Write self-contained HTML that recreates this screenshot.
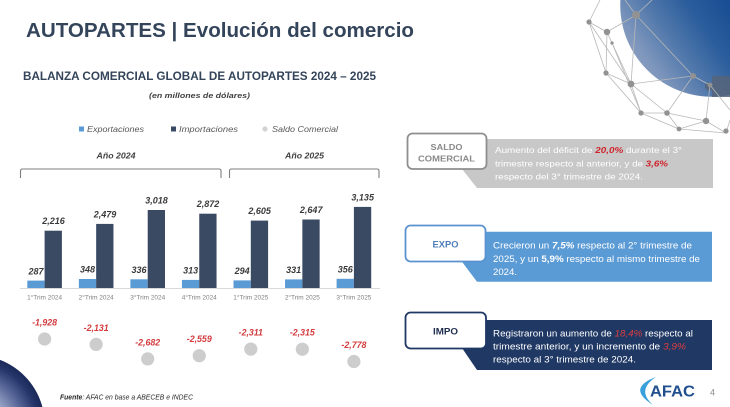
<!DOCTYPE html>
<html><head><meta charset="utf-8"><style>
html,body{margin:0;padding:0;background:#fff;width:730px;height:407px;overflow:hidden;}
#wrap{position:relative;width:730px;height:407px;overflow:hidden;background:#fff;}
#globe{position:absolute;left:620px;top:0;width:110px;height:97px;
background:linear-gradient(235deg,#174c92 0%,#2a5d9c 25%,#5178ab 48%,#7f97bd 70%,#a2adc3 100%);
-webkit-mask-image:radial-gradient(circle 92px at 92px 5px,#000 91.5px,transparent 92px);
mask-image:radial-gradient(circle 92px at 92px 5px,#000 91.5px,transparent 92px);}
#bls{position:absolute;left:0;top:355px;width:50px;height:52px;
background:radial-gradient(circle 70px at -25px 70px,#d5dbe7 0px,#a5b0cc 28px,#5e6d9e 46px,#26366a 62px,#1b2a5a 69.5px,rgba(255,255,255,0) 70px);}
svg{position:absolute;left:0;top:0;display:block;}
text{font-family:"Liberation Sans",sans-serif;}
</style></head><body>
<div id="wrap">
<div id="globe"></div>
<div id="bls"></div>
<svg width="730" height="407" viewBox="0 0 730 407" xmlns="http://www.w3.org/2000/svg">

<!-- puzzle piece -->
<path d="M712 76 H730 V97 H712 V90 Q706 92 705 87 Q704 81 712 83 Z" fill="#566479" opacity="0.85"/>

<!-- network -->
<g stroke="#b8b8b8" stroke-width="0.8" fill="none">
<line x1="589" y1="22" x2="607" y2="32"/><line x1="589" y1="22" x2="600" y2="0"/><line x1="589" y1="22" x2="606" y2="73"/>
<line x1="607" y1="32" x2="636" y2="15"/><line x1="607" y1="32" x2="606" y2="73"/><line x1="636" y1="15" x2="625" y2="0"/>
<line x1="636" y1="15" x2="652" y2="0"/><line x1="606" y1="73" x2="631" y2="84"/><line x1="606" y1="73" x2="641" y2="113"/>
<line x1="631" y1="84" x2="641" y2="113"/><line x1="631" y1="84" x2="693" y2="76"/><line x1="631" y1="84" x2="636" y2="15"/>
<line x1="641" y1="113" x2="667" y2="113"/><line x1="641" y1="113" x2="679" y2="129"/><line x1="667" y1="113" x2="679" y2="129"/>
<line x1="667" y1="113" x2="706" y2="121"/><line x1="667" y1="113" x2="693" y2="76"/><line x1="693" y1="76" x2="710" y2="85"/>
<line x1="706" y1="121" x2="679" y2="129"/><line x1="706" y1="121" x2="726" y2="133"/><line x1="679" y1="129" x2="726" y2="133"/>
<line x1="710" y1="85" x2="706" y2="121"/><line x1="607" y1="32" x2="631" y2="84"/><line x1="693" y1="76" x2="636" y2="15"/>
<line x1="710" y1="85" x2="730" y2="110"/><line x1="726" y1="133" x2="730" y2="120"/><line x1="631" y1="84" x2="667" y2="113"/>
<line x1="612" y1="43" x2="641" y2="113"/><line x1="589" y1="22" x2="631" y2="84"/>
</g>
<g fill="#929292">
<circle cx="589" cy="22" r="2.6"/><circle cx="607" cy="32" r="3.2"/><circle cx="636" cy="15" r="4"/><circle cx="606" cy="73" r="2.6"/>
<circle cx="631" cy="84" r="3.4"/><circle cx="641" cy="113" r="2.6"/><circle cx="667" cy="113" r="2.8"/><circle cx="693" cy="76" r="3"/>
<circle cx="706" cy="121" r="3.2"/><circle cx="679" cy="129" r="2.4"/><circle cx="726" cy="131" r="2.6"/><circle cx="710" cy="85" r="2.4"/>
<circle cx="612" cy="43" r="1.6"/>
</g>

<!-- Title -->
<text x="26" y="37" font-size="20" font-weight="bold" fill="#34455b" textLength="388" lengthAdjust="spacingAndGlyphs">AUTOPARTES | Evolución del comercio</text>
<text x="23" y="80" font-size="11.5" font-weight="bold" fill="#34445a" textLength="353" lengthAdjust="spacingAndGlyphs">BALANZA COMERCIAL GLOBAL DE AUTOPARTES 2024 – 2025</text>
<text x="149" y="98" font-size="7.5" font-weight="bold" font-style="italic" fill="#404040" textLength="101" lengthAdjust="spacingAndGlyphs">(en millones de dólares)</text>

<!-- Legend -->
<rect x="79" y="126.5" width="5" height="5" fill="#5b9bd5"/>
<text x="87" y="132" font-size="8" font-style="italic" fill="#595959" textLength="57" lengthAdjust="spacingAndGlyphs">Exportaciones</text>
<rect x="171" y="126.5" width="5" height="5" fill="#3b4a63"/>
<text x="179" y="132" font-size="8" font-style="italic" fill="#595959" textLength="59" lengthAdjust="spacingAndGlyphs">Importaciones</text>
<circle cx="265" cy="129" r="2.6" fill="#d3d3d3"/>
<text x="272" y="132" font-size="8" font-style="italic" fill="#595959" textLength="66" lengthAdjust="spacingAndGlyphs">Saldo Comercial</text>

<text x="96.5" y="158.5" font-size="8.5" font-weight="bold" font-style="italic" fill="#404040" textLength="39" lengthAdjust="spacingAndGlyphs">Año 2024</text>
<text x="285" y="158.5" font-size="8.5" font-weight="bold" font-style="italic" fill="#404040" textLength="39" lengthAdjust="spacingAndGlyphs">Año 2025</text>

<!-- brackets -->
<path d="M20.5 178 V171 Q20.5 169 22.5 169 H219 Q221 169 221 171 V178" stroke="#7f7f7f" stroke-width="1.1" fill="none"/>
<path d="M229.5 178 V171 Q229.5 169 231.5 169 H377 Q379 169 379 171 V178" stroke="#7f7f7f" stroke-width="1.1" fill="none"/>

<!-- baseline -->
<line x1="20" y1="288.5" x2="380" y2="288.5" stroke="#d9d9d9" stroke-width="1"/>

<!-- bars -->
<g fill="#5b9bd5">
<rect x="27.3" y="280.6" width="17.3" height="7.4"/>
<rect x="78.85" y="279" width="17.3" height="9"/>
<rect x="130.4" y="279.3" width="17.3" height="8.7"/>
<rect x="181.95" y="279.9" width="17.3" height="8.1"/>
<rect x="233.5" y="280.4" width="17.3" height="7.6"/>
<rect x="285.05" y="279.4" width="17.3" height="8.6"/>
<rect x="336.6" y="278.8" width="17.3" height="9.2"/>
</g>
<g fill="#3b4a63">
<rect x="44.6" y="230.7" width="17.3" height="57.3"/>
<rect x="96.15" y="223.9" width="17.3" height="64.1"/>
<rect x="147.7" y="210" width="17.3" height="78"/>
<rect x="199.25" y="213.7" width="17.3" height="74.3"/>
<rect x="250.8" y="220.6" width="17.3" height="67.4"/>
<rect x="302.35" y="219.5" width="17.3" height="68.5"/>
<rect x="353.9" y="206.9" width="17.3" height="81.1"/>
</g>

<!-- value labels -->
<g font-size="9" font-weight="bold" font-style="italic" fill="#3a3a3a" text-anchor="middle">
<text x="53.5" y="224.2">2,216</text>
<text x="105" y="217.4">2,479</text>
<text x="156.5" y="203.5">3,018</text>
<text x="208" y="207.2">2,872</text>
<text x="259.6" y="214.1">2,605</text>
<text x="311.2" y="213">2,647</text>
<text x="362.7" y="200.4">3,135</text>
<text x="36" y="274.3">287</text>
<text x="87.5" y="272.7">348</text>
<text x="139" y="273">336</text>
<text x="190.6" y="273.6">313</text>
<text x="242.2" y="274.1">294</text>
<text x="293.7" y="273.1">331</text>
<text x="345.3" y="272.5">356</text>
</g>

<!-- category labels -->
<g font-size="6.5" fill="#7f7f7f" text-anchor="middle">
<text x="44.6" y="299.5" textLength="35" lengthAdjust="spacingAndGlyphs">1°Trim 2024</text>
<text x="96.15" y="299.5" textLength="35" lengthAdjust="spacingAndGlyphs">2°Trim 2024</text>
<text x="147.7" y="299.5" textLength="35" lengthAdjust="spacingAndGlyphs">3°Trim 2024</text>
<text x="199.25" y="299.5" textLength="35" lengthAdjust="spacingAndGlyphs">4°Trim 2024</text>
<text x="250.8" y="299.5" textLength="35" lengthAdjust="spacingAndGlyphs">1°Trim 2025</text>
<text x="302.35" y="299.5" textLength="35" lengthAdjust="spacingAndGlyphs">2°Trim 2025</text>
<text x="353.9" y="299.5" textLength="35" lengthAdjust="spacingAndGlyphs">3°Trim 2025</text>
</g>

<!-- saldo dots -->
<g fill="#cdcdcd">
<circle cx="44.6" cy="339" r="6.6"/>
<circle cx="96.15" cy="344.4" r="6.6"/>
<circle cx="147.7" cy="358.9" r="6.6"/>
<circle cx="199.25" cy="355.7" r="6.6"/>
<circle cx="250.8" cy="349.1" r="6.6"/>
<circle cx="302.35" cy="349.2" r="6.6"/>
<circle cx="353.9" cy="361.5" r="6.6"/>
</g>
<g font-size="8.8" font-weight="bold" font-style="italic" fill="#d23a3d" text-anchor="middle">
<text x="44.6" y="325.5">-1,928</text>
<text x="96.15" y="330.9">-2,131</text>
<text x="147.7" y="345.4">-2,682</text>
<text x="199.25" y="342.2">-2,559</text>
<text x="250.8" y="335.6">-2,311</text>
<text x="302.35" y="335.7">-2,315</text>
<text x="353.9" y="348">-2,778</text>
</g>

<!-- Fuente -->
<text x="60" y="399.5" font-size="7.5" font-style="italic" fill="#262626" textLength="133" lengthAdjust="spacingAndGlyphs"><tspan font-weight="bold">Fuente</tspan>: AFAC en base a ABECEB e INDEC</text>

<!-- SALDO COMERCIAL panel -->
<polygon points="440,139 713,139 713,188 477,188 462,169 440,169" fill="#c8c8c8"/>
<rect x="407.5" y="133.5" width="79" height="35.5" rx="5" fill="#fff" stroke="#8f8f8f" stroke-width="1.8"/>
<g font-size="8.5" font-weight="bold" fill="#8a8a8a" text-anchor="middle">
<text x="446.5" y="150" textLength="32" lengthAdjust="spacingAndGlyphs">SALDO</text>
<text x="446.5" y="161.5" textLength="57" lengthAdjust="spacingAndGlyphs">COMERCIAL</text>
</g>
<g font-size="8.6" fill="#fff">
<text x="495" y="153" textLength="187" lengthAdjust="spacingAndGlyphs">Aumento del déficit de <tspan font-weight="bold" font-style="italic" fill="#d0222a">20,0%</tspan> durante el 3°</text>
<text x="495" y="166.3" textLength="173" lengthAdjust="spacingAndGlyphs">trimestre respecto al anterior, y de <tspan font-weight="bold" font-style="italic" fill="#d0222a">3,6%</tspan></text>
<text x="495" y="179.3" textLength="148" lengthAdjust="spacingAndGlyphs">respecto del 3° trimestre de 2024.</text>
</g>

<!-- EXPO panel -->
<polygon points="440,231.7 712,231.7 712,281.7 477,281.7 462,261.7 440,261.7" fill="#5b9bd5"/>
<rect x="405.5" y="225.5" width="80" height="36" rx="5" fill="#fff" stroke="#5b93d0" stroke-width="1.8"/>
<text x="445.5" y="247.7" font-size="9.5" font-weight="bold" fill="#4f7fba" text-anchor="middle" textLength="26" lengthAdjust="spacingAndGlyphs">EXPO</text>
<g font-size="8.8" fill="#fff">
<text x="493" y="248.7" textLength="199" lengthAdjust="spacingAndGlyphs">Crecieron un <tspan font-weight="bold" font-style="italic">7,5%</tspan> respecto al 2° trimestre de</text>
<text x="493" y="262.2" textLength="207" lengthAdjust="spacingAndGlyphs">2025, y un <tspan font-weight="bold">5,9%</tspan> respecto al mismo trimestre de</text>
<text x="493" y="274.8" textLength="24" lengthAdjust="spacingAndGlyphs">2024.</text>
</g>

<!-- IMPO panel -->
<polygon points="440,320 712,320 712,370 477,370 462,348 440,348" fill="#1f3864"/>
<rect x="405.5" y="312.5" width="80.5" height="36" rx="5" fill="#fff" stroke="#1f3864" stroke-width="1.8"/>
<text x="445.5" y="334.5" font-size="9.5" font-weight="bold" fill="#1f2d4e" text-anchor="middle" textLength="25" lengthAdjust="spacingAndGlyphs">IMPO</text>
<g font-size="8.8" fill="#fff">
<text x="493" y="336.3" textLength="200" lengthAdjust="spacingAndGlyphs">Registraron un aumento de <tspan font-style="italic" fill="#e23d3d">18,4%</tspan> respecto al</text>
<text x="493" y="349.7" textLength="193" lengthAdjust="spacingAndGlyphs">trimestre anterior, y un incremento de <tspan font-style="italic" fill="#e23d3d">3,9%</tspan></text>
<text x="493" y="362.3" textLength="143" lengthAdjust="spacingAndGlyphs">respecto al 3° trimestre de 2024.</text>
</g>

<!-- AFAC logo -->
<path d="M656 377 Q626 388 653 405 Q636 390 656 377 Z" fill="#3aa0dc"/>
<text x="650" y="396.5" font-size="16" font-weight="bold" fill="#214f8e" textLength="45" lengthAdjust="spacingAndGlyphs">AFAC</text>
<text x="710" y="395.5" font-size="9" fill="#8c8c8c">4</text>
</svg>
</div>
</body></html>
